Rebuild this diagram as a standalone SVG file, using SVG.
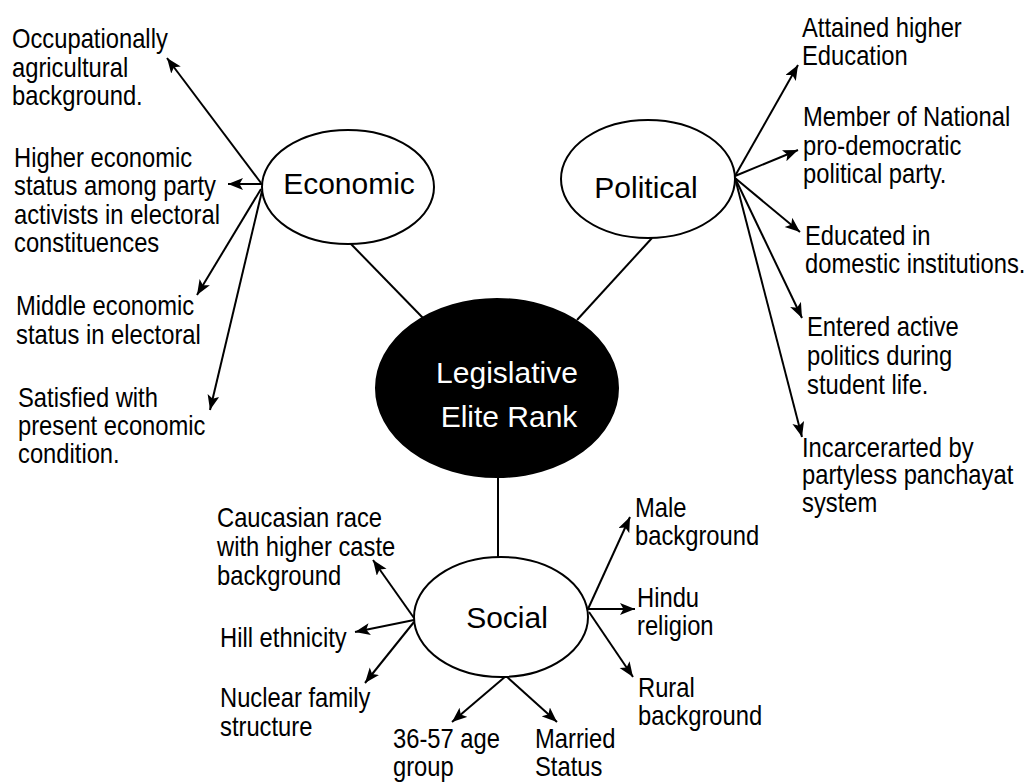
<svg xmlns="http://www.w3.org/2000/svg" width="1031" height="783" viewBox="0 0 1031 783">
  <style>
    .bg { fill: #ffffff; }
    .node { fill: #ffffff; stroke: #000000; stroke-width: 2; }
    .core { fill: #000000; stroke: #000000; stroke-width: 2; }
    .title { font-family: "Liberation Sans", Arial, sans-serif; font-size: 30px; fill: #000000; text-anchor: middle; }
    .title-inv { font-family: "Liberation Sans", Arial, sans-serif; font-size: 30px; fill: #ffffff; text-anchor: middle; }
    .label { font-family: "Liberation Sans", Arial, sans-serif; font-size: 27px; fill: #000000; }
    .link { stroke: #000000; stroke-width: 2; fill: none; }
    .arrow { stroke: #000000; stroke-width: 2; fill: none; marker-end: url(#head); }
  </style>
  <defs>
    <marker id="head" markerUnits="userSpaceOnUse" markerWidth="17" markerHeight="13" refX="15" refY="6" orient="auto">
      <path d="M0,0 L15,6 L0,12 L3.5,6 Z" fill="#000000"/>
    </marker>
  </defs>

  <rect class="bg" x="0" y="0" width="1031" height="783"/>

  <!-- connectors -->
  <g id="connectors">
    <!-- hub links -->
    <line class="link" x1="350" y1="243" x2="423" y2="318"/>
    <line class="link" x1="652" y1="238" x2="577" y2="320"/>
    <line class="link" x1="498" y1="477" x2="498" y2="557"/>
    <!-- economic -->
    <line class="arrow" x1="261" y1="183" x2="167" y2="58"/>
    <line class="arrow" x1="262" y1="184" x2="228" y2="184"/>
    <line class="arrow" x1="261" y1="189" x2="197" y2="295"/>
    <line class="arrow" x1="262" y1="191" x2="210" y2="410"/>
    <!-- political -->
    <line class="arrow" x1="735" y1="176" x2="798" y2="65"/>
    <line class="arrow" x1="735" y1="176" x2="798" y2="150"/>
    <line class="arrow" x1="735" y1="178" x2="800" y2="232"/>
    <line class="arrow" x1="735" y1="178" x2="802" y2="318"/>
    <line class="arrow" x1="735" y1="178" x2="802" y2="437"/>
    <!-- social -->
    <line class="arrow" x1="414" y1="618" x2="373" y2="560"/>
    <line class="arrow" x1="414" y1="620" x2="355" y2="632"/>
    <line class="arrow" x1="414" y1="622" x2="365" y2="683"/>
    <line class="arrow" x1="588" y1="609" x2="630" y2="517"/>
    <line class="arrow" x1="588" y1="609" x2="635" y2="609"/>
    <line class="arrow" x1="589" y1="612" x2="633" y2="677"/>
    <line class="arrow" x1="506" y1="676" x2="452" y2="722"/>
    <line class="arrow" x1="506" y1="676" x2="557" y2="722"/>
  </g>

  <!-- central node -->
  <g id="node-legislative">
    <ellipse class="core" cx="497" cy="388" rx="121" ry="89"/>
    <text class="title-inv" x="507" y="383">Legislative</text>
    <text class="title-inv" x="509" y="427">Elite Rank</text>
  </g>

  <g id="node-economic">
    <ellipse class="node" cx="348" cy="187" rx="86" ry="57"/>
    <text class="title" x="349" y="194">Economic</text>
  </g>

  <g id="node-political">
    <ellipse class="node" cx="648" cy="179" rx="87" ry="59"/>
    <text class="title" x="646" y="198">Political</text>
  </g>

  <g id="node-social">
    <ellipse class="node" cx="501" cy="617" rx="87" ry="60"/>
    <text class="title" x="507" y="628">Social</text>
  </g>

  <!-- economic attributes -->
  <g id="eco-occupation">
    <text class="label" transform="translate(12 0) scale(0.88 1)"><tspan x="0" y="48">Occupationally</tspan><tspan x="0" y="77">agricultural</tspan><tspan x="0" y="105">background.</tspan></text>
  </g>
  <g id="eco-higher">
    <text class="label" transform="translate(14 0) scale(0.88 1)"><tspan x="0" y="167">Higher economic</tspan><tspan x="0" y="195">status among party</tspan><tspan x="0" y="224">activists in electoral</tspan><tspan x="0" y="252">constituences</tspan></text>
  </g>
  <g id="eco-middle">
    <text class="label" transform="translate(16 0) scale(0.88 1)"><tspan x="0" y="315">Middle economic</tspan><tspan x="0" y="344">status in electoral</tspan></text>
  </g>
  <g id="eco-satisfied">
    <text class="label" transform="translate(18 0) scale(0.88 1)"><tspan x="0" y="407">Satisfied with</tspan><tspan x="0" y="435">present economic</tspan><tspan x="0" y="463">condition.</tspan></text>
  </g>

  <!-- political attributes -->
  <g id="pol-education">
    <text class="label" transform="translate(802 0) scale(0.88 1)"><tspan x="0" y="37">Attained higher</tspan><tspan x="0" y="65">Education</tspan></text>
  </g>
  <g id="pol-member">
    <text class="label" transform="translate(803 0) scale(0.88 1)"><tspan x="0" y="126">Member of National</tspan><tspan x="0" y="155">pro-democratic</tspan><tspan x="0" y="183">political party.</tspan></text>
  </g>
  <g id="pol-domestic">
    <text class="label" transform="translate(805 0) scale(0.88 1)"><tspan x="0" y="245">Educated in</tspan><tspan x="0" y="273">domestic institutions.</tspan></text>
  </g>
  <g id="pol-student">
    <text class="label" transform="translate(807 0) scale(0.88 1)"><tspan x="0" y="336">Entered active</tspan><tspan x="0" y="365">politics during</tspan><tspan x="0" y="394">student life.</tspan></text>
  </g>
  <g id="pol-incarcerated">
    <text class="label" transform="translate(802 0) scale(0.88 1)"><tspan x="0" y="457">Incarcerarted by</tspan><tspan x="0" y="484">partyless panchayat</tspan><tspan x="0" y="512">system</tspan></text>
  </g>

  <!-- social attributes -->
  <g id="soc-caste">
    <text class="label" transform="translate(217 0) scale(0.88 1)"><tspan x="0" y="527">Caucasian race</tspan><tspan x="0" y="556">with higher caste</tspan><tspan x="0" y="585">background</tspan></text>
  </g>
  <g id="soc-hill">
    <text class="label" transform="translate(220 0) scale(0.88 1)"><tspan x="0" y="647">Hill ethnicity</tspan></text>
  </g>
  <g id="soc-nuclear">
    <text class="label" transform="translate(220 0) scale(0.88 1)"><tspan x="0" y="707">Nuclear family</tspan><tspan x="0" y="736">structure</tspan></text>
  </g>
  <g id="soc-age">
    <text class="label" transform="translate(393 0) scale(0.88 1)"><tspan x="0" y="748">36-57 age</tspan><tspan x="0" y="776">group</tspan></text>
  </g>
  <g id="soc-married">
    <text class="label" transform="translate(535 0) scale(0.88 1)"><tspan x="0" y="748">Married</tspan><tspan x="0" y="776">Status</tspan></text>
  </g>
  <g id="soc-male">
    <text class="label" transform="translate(635 0) scale(0.88 1)"><tspan x="0" y="517">Male</tspan><tspan x="0" y="545">background</tspan></text>
  </g>
  <g id="soc-hindu">
    <text class="label" transform="translate(637 0) scale(0.88 1)"><tspan x="0" y="607">Hindu</tspan><tspan x="0" y="635">religion</tspan></text>
  </g>
  <g id="soc-rural">
    <text class="label" transform="translate(638 0) scale(0.88 1)"><tspan x="0" y="697">Rural</tspan><tspan x="0" y="725">background</tspan></text>
  </g>
</svg>
